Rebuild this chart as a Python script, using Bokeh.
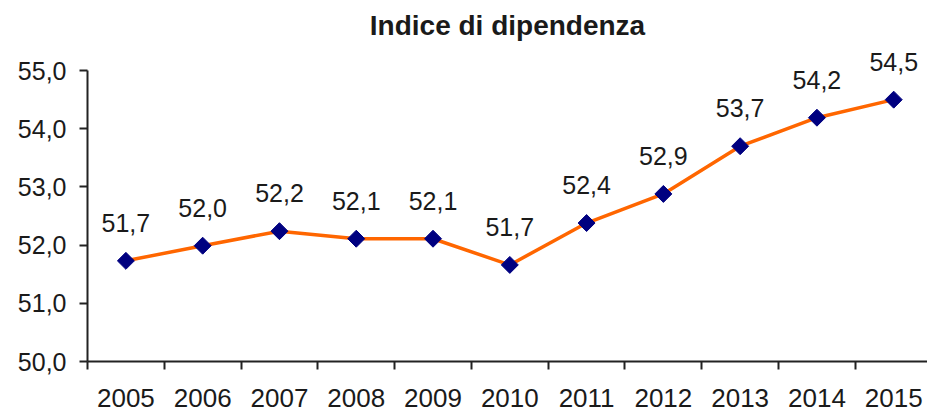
from bokeh.plotting import figure
from bokeh.models import ColumnDataSource, FixedTicker, Range1d, LabelSet, Label
from bokeh.core.properties import value
from bokeh.embed import file_html
from bokeh.resources import INLINE
import math

years = [2005, 2006, 2007, 2008, 2009, 2010, 2011, 2012, 2013, 2014, 2015]
values = [51.73, 51.99, 52.24, 52.11, 52.11, 51.66, 52.38, 52.88, 53.70, 54.19, 54.50]
y_ticks = [50, 51, 52, 53, 54, 55]
title_text = "Indice di dipendenza"

FONT = "Liberation Sans"
TXT = "#1a1a1a"

labels = [f"{v:.1f}".replace(".", ",") for v in values]
src = ColumnDataSource(dict(x=years, y=values, lab=labels))

x0, x1 = years[0] - 0.5, years[0] - 0.5 + 10.94
y0, y1 = y_ticks[0], y_ticks[-1] + 1.17

p = figure(width=927, height=412, output_backend="svg", toolbar_location=None,
           x_range=Range1d(x0, x1), y_range=Range1d(y0, y1),
           min_border_left=87, min_border_right=0, min_border_top=2, min_border_bottom=51)
p.outline_line_color = None
p.xgrid.grid_line_color = None
p.ygrid.grid_line_color = None

p.line("x", "y", source=src, line_color="#FF6600", line_width=3.5)
p.scatter("x", "y", source=src, marker="square", size=12, angle=math.pi / 4,
          fill_color="#000080", line_color="#000080")

p.add_layout(LabelSet(x="x", y="y", text="lab", source=src, y_offset=38,
                      text_align="center", text_baseline="middle",
                      text_font=value(FONT), text_font_size=value("25px"), text_color=TXT))

p.add_layout(Label(x=(x0 + x1) / 2, y=y_ticks[-1] + 0.774, text=title_text,
                   text_align="center", text_baseline="middle",
                   text_font=FONT, text_font_size="28px", text_font_style="bold",
                   text_color=TXT))

xa = p.xaxis[0]
xa.ticker = FixedTicker(ticks=years, minor_ticks=[y - 0.5 for y in years] + [years[-1] + 0.5])
xa.major_label_overrides = {y: str(y) for y in years}
xa.major_tick_line_color = None
xa.major_tick_out = 8
xa.major_tick_in = 0
xa.minor_tick_out = 8
xa.minor_tick_in = 0
xa.minor_tick_line_color = "#222222"
xa.minor_tick_line_width = 2
xa.axis_line_color = "#222222"
xa.axis_line_width = 2
xa.major_label_standoff = 19
xa.major_label_text_font = FONT
xa.major_label_text_font_size = "26px"
xa.major_label_text_color = TXT

ya = p.yaxis[0]
ya.ticker = FixedTicker(ticks=y_ticks)
ya.bounds = (y_ticks[0], y_ticks[-1])
ya.major_label_overrides = {t: f"{t:.1f}".replace(".", ",") for t in y_ticks}
ya.major_tick_out = 8
ya.major_tick_in = 0
ya.minor_tick_line_color = None
ya.major_tick_line_color = "#222222"
ya.major_tick_line_width = 2
ya.axis_line_color = "#222222"
ya.axis_line_width = 2
ya.major_label_standoff = 13
ya.major_label_text_font = FONT
ya.major_label_text_font_size = "25px"
ya.major_label_text_color = TXT

open("out.html", "w").write(file_html(p, INLINE))
